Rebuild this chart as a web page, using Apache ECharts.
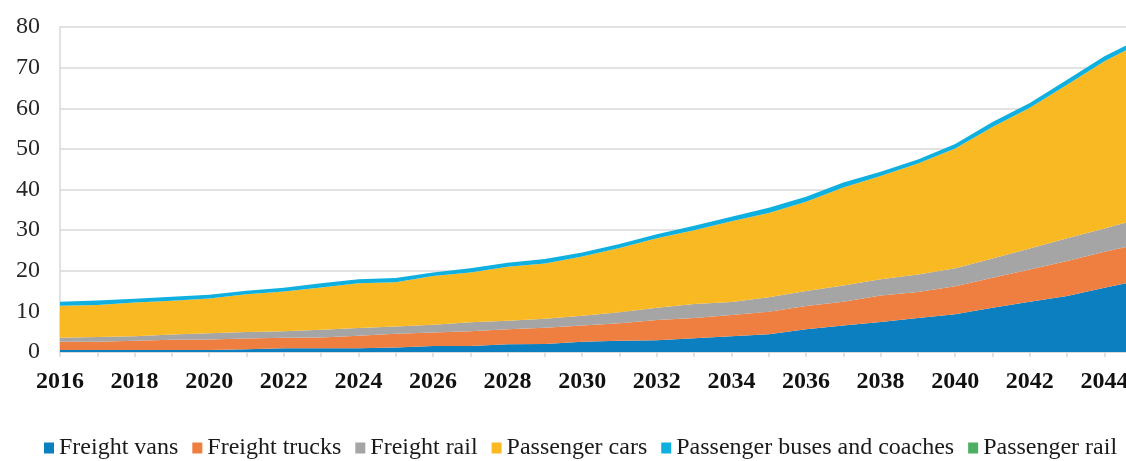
<!DOCTYPE html>
<html>
<head>
<meta charset="utf-8">
<script src="https://cdn.jsdelivr.net/npm/echarts@6/dist/echarts.min.js"></script>
<style>
  html, body { margin: 0; padding: 0; background: #ffffff; }
  #chart { width: 1126px; height: 461px; }
</style>
</head>
<body>
<div id="chart"></div>
<script>
// Categories (years). The last year continues past the visible right edge, as in the reference.
const years = ['2016','2017','2018','2019','2020','2021','2022','2023','2024','2025',
               '2026','2027','2028','2029','2030','2031','2032','2033','2034','2035',
               '2036','2037','2038','2039','2040','2041','2042','2043','2044','2045'];

const freightVans = [0.5,0.5,0.5,0.5,0.5,0.7,0.9,0.9,0.9,1.1,
                     1.5,1.5,1.9,2.0,2.5,2.8,2.9,3.4,3.9,4.4,
                     5.6,6.5,7.4,8.4,9.3,10.9,12.4,13.8,15.8,17.7];
const freightTrucks = [2.0,2.0,2.3,2.5,2.6,2.6,2.6,2.7,3.1,3.4,
                       3.3,3.6,3.7,4.0,4.0,4.3,5.0,5.0,5.2,5.5,
                       5.7,5.9,6.5,6.4,6.9,7.4,7.9,8.6,8.9,9.0];
const freightRail = [1.0,1.2,1.1,1.3,1.5,1.6,1.6,1.9,1.9,1.8,
                     1.9,2.2,2.1,2.2,2.4,2.7,3.0,3.4,3.2,3.6,
                     3.7,4.0,4.0,4.3,4.4,4.7,5.2,5.6,5.7,6.2];
const passengerCars = [7.9,7.9,8.3,8.3,8.6,9.3,9.8,10.4,11.0,10.9,
                       12.0,12.3,13.3,13.6,14.6,15.8,17.1,18.2,19.9,20.7,
                       22.0,24.1,25.4,27.3,29.5,32.4,34.6,37.8,41.2,43.3];
const passengerBuses = [1.0,1.1,0.9,1.0,0.9,0.9,0.9,1.0,1.0,1.0,
                        0.9,1.0,1.0,1.1,1.0,1.0,1.0,1.1,1.1,1.3,
                        1.2,1.2,1.1,1.0,1.1,1.2,1.2,1.2,1.2,1.2];
const passengerRail = [0,0,0,0,0,0,0,0,0,0,
                       0,0,0,0,0,0,0,0,0,0,
                       0,0,0,0,0,0,0,0,0,0];

const yTicks = { min: 0, max: 80, interval: 10 };

const seriesDefs = [
  { name: 'Freight vans', data: freightVans, color: '#0b7fc0' },
  { name: 'Freight trucks', data: freightTrucks, color: '#ef7f40' },
  { name: 'Freight rail', data: freightRail, color: '#a5a5a5' },
  { name: 'Passenger cars', data: passengerCars, color: '#f9b922' },
  { name: 'Passenger buses and coaches', data: passengerBuses, color: '#0fb0e0' },
  { name: 'Passenger rail', data: passengerRail, color: '#4caf62' }
];

const serif = '"Liberation Serif", "Times New Roman", "DejaVu Serif", serif';

const chart = echarts.init(document.getElementById('chart'), null, { renderer: 'canvas' });

chart.setOption({
  animation: false,
  backgroundColor: '#ffffff',
  color: seriesDefs.map(s => s.color),
  grid: {
    left: 60,
    top: 27,
    width: 1081.7,
    height: 325,
    containLabel: false,
    outerBoundsMode: 'none'
  },
  legend: {
    top: 436,
    left: 44,
    width: 1082,
    padding: 0,
    itemWidth: 10,
    itemHeight: 11,
    itemGap: 14,
    icon: 'rect',
    textStyle: { fontFamily: serif, fontSize: 24, color: '#1a1a1a' },
    data: seriesDefs.map(s => s.name)
  },
  xAxis: {
    type: 'category',
    data: years,
    boundaryGap: false,
    axisLine: { show: true, lineStyle: { color: '#d9d9d9', width: 1.5 } },
    axisTick: { show: true, interval: 0, length: 5, lineStyle: { color: '#d9d9d9', width: 1.5 } },
    axisLabel: {
      interval: 1,
      margin: 18,
      fontFamily: serif,
      fontSize: 24,
      fontWeight: 'bold',
      color: '#111111'
    },
    splitLine: { show: false }
  },
  yAxis: {
    type: 'value',
    min: yTicks.min,
    max: yTicks.max,
    interval: yTicks.interval,
    axisLine: { show: true, lineStyle: { color: '#d9d9d9', width: 1.5 } },
    axisTick: { show: false },
    axisLabel: {
      margin: 20,
      fontFamily: serif,
      fontSize: 24,
      color: '#262626'
    },
    splitLine: { show: true, lineStyle: { color: '#d9d9d9', width: 1.5 } }
  },
  series: seriesDefs.map(s => ({
    name: s.name,
    type: 'line',
    stack: 'total',
    data: s.data,
    symbol: 'none',
    showSymbol: false,
    lineStyle: { width: 0, opacity: 0 },
    areaStyle: { color: s.color, opacity: 1 },
    itemStyle: { color: s.color },
    emphasis: { disabled: true }
  }))
});
</script>
</body>
</html>
